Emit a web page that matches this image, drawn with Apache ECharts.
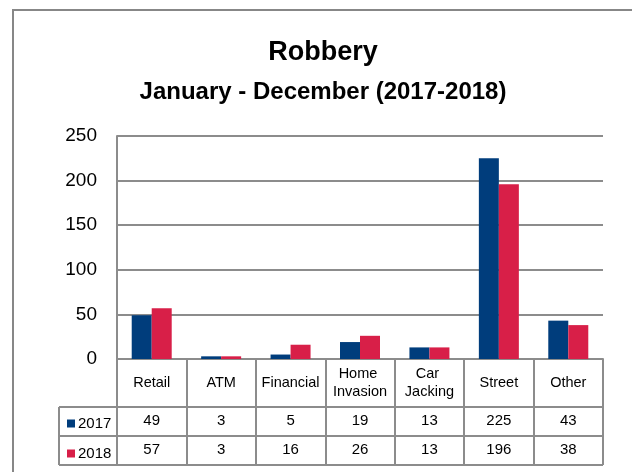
<!DOCTYPE html>
<html><head><meta charset="utf-8">
<script src="https://cdn.jsdelivr.net/npm/echarts@6/dist/echarts.min.js"></script>
<style>html,body{margin:0;padding:0;background:#fff}#c{width:632px;height:472px}</style>
</head><body><div id="c"></div>
<script>
const categories = ['Retail', 'ATM', 'Financial', 'Home Invasion', 'Car Jacking', 'Street', 'Other'];
const seriesNames = ['2017', '2018'];
const values2017 = [49, 3, 5, 19, 13, 225, 43];
const values2018 = [57, 3, 16, 26, 13, 196, 38];
const titleText = 'Robbery';
const subtitleText = 'January - December (2017-2018)';

const FONT = 'Liberation Sans';
const C17 = '#003d7c', C18 = '#d81f48', GRAY = '#8c8c8c';
const G = {left: 117, right: 29, top: 136, bottom: 113};
const W = 632, H = 472;
const x0 = G.left, x1 = W - G.right, yAxisY = H - G.bottom;
const rowY = [yAxisY, yAxisY + 48, yAxisY + 77, yAxisY + 106];
const tableLeft = 59;

const chart = echarts.init(document.getElementById('c'), null, {renderer: 'canvas'});
const hLine = (xa, xb, y) => ({type: 'line', shape: {x1: xa, y1: y, x2: xb, y2: y}, style: {stroke: GRAY, lineWidth: 2}, silent: true});
const vLine = (x, ya, yb) => ({type: 'line', shape: {x1: x, y1: ya, x2: x, y2: yb}, style: {stroke: GRAY, lineWidth: 2}, silent: true});

const rowAxis = (idx, margin, vals) => ({
  type: 'category', gridIndex: 0, position: 'bottom', data: categories,
  axisLine: {show: false}, axisTick: {show: false}, splitLine: {show: false},
  axisLabel: {margin: margin, verticalAlign: 'middle', interval: 0, fontFamily: FONT, fontSize: 15, color: '#000',
    formatter: (v, i) => String(vals[i])}
});

chart.setOption({
  animation: false,
  title: [
    {text: titleText, left: 318, top: 34, textAlign: 'center', textStyle: {fontFamily: FONT, fontWeight: 'bold', fontSize: 27, color: '#000'}},
    {text: subtitleText, left: 318, top: 75, textAlign: 'center', textStyle: {fontFamily: FONT, fontWeight: 'bold', fontSize: 24, color: '#000'}}
  ],
  legend: {
    orient: 'vertical', left: 62, top: 411, itemGap: 15, itemWidth: 8, itemHeight: 8, icon: 'rect',
    data: seriesNames,
    textStyle: {fontFamily: FONT, fontSize: 15, color: '#000', padding: [0, 0, 0, -2]}
  },
  grid: {left: G.left, right: G.right, top: G.top, bottom: G.bottom, containLabel: false},
  xAxis: [
    {
      type: 'category', data: categories, boundaryGap: true,
      axisLine: {show: true, lineStyle: {color: GRAY, width: 2}},
      axisTick: {show: true, inside: false, length: 106, lineStyle: {color: GRAY, width: 2}},
      axisLabel: {margin: 24, verticalAlign: 'middle', interval: 0, width: 64, overflow: 'break', lineHeight: 18,
        fontFamily: FONT, fontSize: 14.5, color: '#000'}
    },
    rowAxis(1, 62, values2017),
    rowAxis(2, 91, values2018)
  ],
  yAxis: {
    type: 'value', min: 0, max: 250, interval: 50,
    axisLine: {show: true, lineStyle: {color: GRAY, width: 2}},
    axisTick: {show: false},
    splitLine: {show: true, lineStyle: {color: GRAY, width: 2}},
    axisLabel: {margin: 20, fontFamily: FONT, fontSize: 19, color: '#000'}
  },
  series: [
    {name: seriesNames[0], type: 'bar', data: values2017, barWidth: 20, barGap: '0%', itemStyle: {color: C17}},
    {name: seriesNames[1], type: 'bar', data: values2018, barWidth: 20, barGap: '0%', itemStyle: {color: C18}}
  ],
  graphic: [
    {type: 'rect', shape: {x: 13, y: 10, width: 640, height: 480}, style: {fill: null, stroke: '#878787', lineWidth: 2}, silent: true},
    hLine(tableLeft, x1, rowY[1]),
    hLine(tableLeft, x1, rowY[2]),
    hLine(tableLeft, x1, rowY[3]),
    vLine(tableLeft, rowY[1], rowY[3])
  ]
});
</script></body></html>
